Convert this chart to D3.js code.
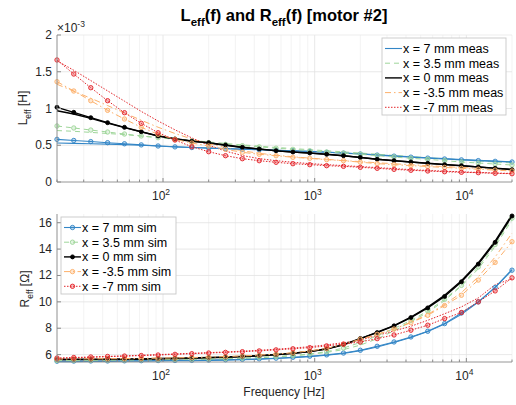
<!DOCTYPE html>
<html>
<head>
<meta charset="utf-8">
<script src="https://cdn.jsdelivr.net/npm/d3@7/dist/d3.min.js"></script>
<style>
  body { margin: 0; background: #fff; }
  svg { display: block; font-family: "Liberation Sans", Arial, sans-serif; }
</style>
</head>
<body>
<div id="container"></div>
<script>
// frequencies [Hz] of the measured / simulated points
const freq = [20, 25.8, 33.4, 43.1, 55.7, 71.9, 92.8, 119.9, 154.9, 200, 258.3, 333.6, 430.9, 556.5,
  718.8, 928.3, 1199, 1549, 2000, 2583, 3336, 4309, 5565, 7188, 9283, 11990, 15486, 20000];

const names = ['x = 7 mm', 'x = 3.5 mm', 'x = 0 mm', 'x = -3.5 mm', 'x = -7 mm'];

// L_eff in mH (axis shows x10^-3)
const lMeas7 = [0.53,0.525,0.52,0.515,0.508,0.5,0.49,0.48,0.47,0.462,0.455,0.447,0.44,0.432,0.424,0.416,0.406,0.395,0.384,0.37,0.356,0.343,0.33,0.318,0.306,0.295,0.284,0.274];
const lMeas35 = [0.70,0.69,0.675,0.66,0.645,0.625,0.605,0.585,0.565,0.545,0.525,0.505,0.488,0.47,0.455,0.44,0.425,0.41,0.394,0.378,0.362,0.346,0.33,0.315,0.3,0.285,0.272,0.26];
const lMeas0 = [0.97,0.925,0.865,0.8,0.74,0.682,0.628,0.59,0.558,0.53,0.5,0.47,0.447,0.425,0.407,0.393,0.376,0.357,0.335,0.31,0.291,0.273,0.255,0.238,0.223,0.206,0.189,0.172];
const lMeasM35 = [1.33,1.235,1.14,1.04,0.94,0.84,0.745,0.66,0.585,0.52,0.468,0.425,0.39,0.365,0.343,0.325,0.308,0.292,0.277,0.262,0.248,0.235,0.222,0.21,0.198,0.186,0.175,0.165];
const lMeasM7 = [1.65,1.52,1.38,1.24,1.1,0.96,0.83,0.71,0.6,0.5,0.42,0.36,0.318,0.29,0.268,0.25,0.236,0.223,0.21,0.196,0.182,0.168,0.157,0.147,0.138,0.13,0.122,0.116];

const lSim7 = [0.58,0.565,0.55,0.535,0.52,0.505,0.49,0.478,0.469,0.461,0.453,0.446,0.439,0.431,0.423,0.414,0.404,0.393,0.381,0.366,0.352,0.338,0.325,0.313,0.301,0.291,0.281,0.272];
const lSim35 = [0.762,0.735,0.707,0.68,0.653,0.626,0.603,0.581,0.556,0.535,0.512,0.494,0.478,0.46,0.444,0.426,0.408,0.392,0.377,0.358,0.34,0.322,0.309,0.29,0.272,0.258,0.245,0.231];
const lSim0 = [1.016,0.948,0.875,0.807,0.744,0.684,0.626,0.585,0.555,0.535,0.503,0.472,0.449,0.426,0.408,0.395,0.377,0.358,0.334,0.309,0.29,0.272,0.254,0.236,0.222,0.204,0.186,0.167];
const lSimM35 = [1.365,1.238,1.106,0.975,0.857,0.744,0.649,0.58,0.53,0.49,0.444,0.404,0.377,0.358,0.336,0.322,0.304,0.29,0.27,0.25,0.236,0.223,0.21,0.198,0.186,0.174,0.162,0.15];
const lSimM7 = [1.66,1.469,1.283,1.106,0.943,0.798,0.671,0.571,0.48,0.412,0.358,0.317,0.29,0.268,0.249,0.236,0.222,0.213,0.2,0.186,0.172,0.159,0.15,0.14,0.132,0.127,0.118,0.113];

// R_eff in Ohm
const rMeas7 = [5.46,5.47,5.48,5.49,5.5,5.51,5.52,5.53,5.54,5.56,5.58,5.61,5.65,5.7,5.77,5.85,5.95,6.09,6.3,6.58,6.92,7.3,7.75,8.32,9.05,9.98,11.1,12.45];
const rMeas35 = [5.52,5.53,5.54,5.55,5.56,5.57,5.58,5.6,5.62,5.64,5.67,5.71,5.76,5.83,5.91,6.02,6.17,6.38,6.72,7.2,7.8,8.5,9.2,10.1,11.2,12.5,14.2,16.2];
const rMeas0 = [5.6,5.61,5.62,5.63,5.64,5.65,5.67,5.69,5.72,5.75,5.79,5.84,5.91,5.99,6.09,6.23,6.43,6.74,7.2,7.7,8.2,8.85,9.6,10.5,11.6,12.95,14.6,16.6];
const rMeasM35 = [5.64,5.65,5.66,5.67,5.68,5.7,5.72,5.74,5.77,5.8,5.84,5.89,5.95,6.03,6.13,6.27,6.46,6.76,7.15,7.52,7.95,8.45,9.05,9.8,10.7,11.9,13.4,15.2];
const rMeasM7 = [5.7,5.75,5.8,5.85,5.9,5.95,6.0,6.05,6.1,6.15,6.2,6.26,6.33,6.41,6.5,6.6,6.74,6.9,7.1,7.45,7.8,8.15,8.6,9.1,9.62,10.3,11.3,11.75];

const rSim7 = [5.5,5.51,5.52,5.52,5.53,5.54,5.55,5.56,5.57,5.59,5.61,5.64,5.68,5.73,5.8,5.88,5.98,6.12,6.33,6.63,6.96,7.34,7.77,8.35,9.16,10.0,11.09,12.4];
const rSim35 = [5.55,5.56,5.57,5.58,5.59,5.6,5.61,5.63,5.65,5.67,5.7,5.74,5.79,5.85,5.93,6.05,6.22,6.5,6.92,7.42,7.98,8.6,9.3,10.2,11.25,12.65,14.35,16.35];
const rSim0 = [5.64,5.645,5.65,5.66,5.67,5.68,5.7,5.72,5.75,5.78,5.82,5.87,5.93,6.0,6.1,6.24,6.44,6.76,7.22,7.67,8.18,8.81,9.54,10.41,11.52,12.86,14.51,16.51];
const rSimM35 = [5.66,5.67,5.68,5.69,5.7,5.71,5.73,5.75,5.78,5.81,5.85,5.9,5.96,6.04,6.14,6.28,6.47,6.78,7.17,7.54,7.94,8.42,8.98,9.72,10.5,11.65,12.99,14.56];
const rSimM7 = [5.74,5.78,5.82,5.86,5.89,5.93,5.97,6.02,6.07,6.12,6.17,6.22,6.28,6.36,6.44,6.53,6.66,6.8,6.96,7.21,7.49,7.85,8.23,8.73,9.19,10.0,10.83,11.82];

const lTicks = [0, 0.5, 1, 1.5, 2];
const rTicks = [6, 8, 10, 12, 14, 16];
const xTicks = [100, 1000, 10000];

// line styles per position
const colors = ['#3386c6', '#9fd69a', '#000000', '#fdb06a', '#e3262b'];
const dashes = [null, '5,4', null, '6,3,1.5,3', '1.5,1.5'];
const widths = [1.1, 1.0, 1.4, 1.0, 1.0];

const w = 516, h = 405;
const left = 57, right = 512;

const svg = d3.select('#container').append('svg').attr('width', w).attr('height', h);

const x = d3.scaleLog().domain([20, 20000]).range([left, right]);

function minorTicks() {
  const out = [];
  [10, 100, 1000, 10000].forEach(d => { for (let k = 2; k <= 9; k++) { const v = d * k; if (v >= 20 && v <= 20000) out.push(v); } });
  return out;
}

function marker(sel, k) {
  sel.attr('r', k === 2 ? 2 : 2.2)
    .attr('fill', k === 2 ? '#000' : colors[k]).attr('fill-opacity', k === 2 ? 1 : 0.3)
    .attr('stroke', colors[k]).attr('stroke-width', 0.9);
}

function panel(top, bottom, yDomain, yTicks, fmt, meas, sim, legendText, legendBox, withMarkers) {
  const y = d3.scaleLinear().domain(yDomain).range([bottom, top]);
  const g = svg.append('g');

  // grid
  g.selectAll('.xminor').data(minorTicks()).enter().append('line')
    .attr('x1', d => x(d)).attr('x2', d => x(d)).attr('y1', top).attr('y2', bottom)
    .attr('stroke', '#f0f0f0').attr('stroke-width', 0.8);
  g.selectAll('.xmajor').data(xTicks).enter().append('line')
    .attr('x1', d => x(d)).attr('x2', d => x(d)).attr('y1', top).attr('y2', bottom)
    .attr('stroke', '#e2e2e2').attr('stroke-width', 0.8);
  g.selectAll('.ymajor').data(yTicks.filter(t => y(t) > top + 0.5 && y(t) < bottom - 0.5)).enter().append('line')
    .attr('x1', left).attr('x2', right).attr('y1', d => y(d)).attr('y2', d => y(d))
    .attr('stroke', '#e2e2e2').attr('stroke-width', 0.8);
  if (yDomain[1] === yTicks[yTicks.length - 1]) {
    g.append('line').attr('x1', left).attr('x2', right).attr('y1', top).attr('y2', top)
      .attr('stroke', '#e8e8e8').attr('stroke-width', 0.8);
  }

  const line = d3.line().x((d, i) => x(freq[i])).y(d => y(d));

  meas.forEach((s, k) => {
    g.append('path').datum(s).attr('d', line).attr('fill', 'none')
      .attr('stroke', colors[k]).attr('stroke-width', widths[k])
      .attr('stroke-dasharray', dashes[k]);
  });
  sim.forEach((s, k) => {
    g.append('path').datum(s).attr('d', line).attr('fill', 'none')
      .attr('stroke', colors[k]).attr('stroke-width', widths[k])
      .attr('stroke-dasharray', dashes[k]);
    g.selectAll('.m' + k).data(s).enter().append('circle')
      .attr('cx', (d, i) => x(freq[i])).attr('cy', d => y(d))
      .call(marker, k);
  });

  // axes lines
  g.append('line').attr('x1', left).attr('x2', left).attr('y1', top).attr('y2', bottom).attr('stroke', '#8a8a8a').attr('stroke-width', 0.9);
  g.append('line').attr('x1', left).attr('x2', right).attr('y1', bottom).attr('y2', bottom).attr('stroke', '#8a8a8a').attr('stroke-width', 0.9);

  // ticks (inward)
  g.selectAll('.yt').data(yTicks).enter().append('line')
    .attr('x1', left).attr('x2', left + 4).attr('y1', d => y(d)).attr('y2', d => y(d)).attr('stroke', '#8a8a8a');
  g.selectAll('.xt').data(xTicks).enter().append('line')
    .attr('x1', d => x(d)).attr('x2', d => x(d)).attr('y1', bottom).attr('y2', bottom - 4).attr('stroke', '#8a8a8a');
  g.selectAll('.xmt').data(minorTicks()).enter().append('line')
    .attr('x1', d => x(d)).attr('x2', d => x(d)).attr('y1', bottom).attr('y2', bottom - 2.5).attr('stroke', '#8a8a8a');

  g.selectAll('.yl').data(yTicks).enter().append('text')
    .attr('x', left - 5).attr('y', d => y(d) + 4).attr('text-anchor', 'end')
    .attr('font-size', 12).attr('fill', '#262626').text(fmt);

  const xl = g.selectAll('.xl').data(xTicks).enter().append('text')
    .attr('x', d => x(d) - 2).attr('y', bottom + 18).attr('text-anchor', 'middle')
    .attr('font-size', 12).attr('fill', '#262626');
  xl.append('tspan').text('10');
  xl.append('tspan').attr('dy', -5).attr('font-size', 8.5).text(d => Math.round(Math.log10(d)));

  // legend
  const lg = g.append('g');
  lg.append('rect').attr('x', legendBox.x).attr('y', legendBox.y).attr('width', legendBox.w).attr('height', legendBox.h)
    .attr('fill', '#fff').attr('stroke', '#c8c8c8').attr('stroke-width', 0.9);
  names.forEach((n, k) => {
    const yy = legendBox.y + 10.5 + k * 14.7;
    lg.append('line').attr('x1', legendBox.x + 3).attr('x2', legendBox.x + 20).attr('y1', yy).attr('y2', yy)
      .attr('stroke', colors[k]).attr('stroke-width', widths[k]).attr('stroke-dasharray', dashes[k]);
    if (withMarkers) {
      lg.append('circle').attr('cx', legendBox.x + 11.5).attr('cy', yy).call(marker, k);
    }
    lg.append('text').attr('x', legendBox.x + 21).attr('y', yy + 4.3).attr('font-size', 12.5).attr('fill', '#000')
      .text(n + legendText);
  });
  return y;
}

panel(35, 182, [0, 2], lTicks, d => d3.format('~g')(d),
  [lMeas7, lMeas35, lMeas0, lMeasM35, lMeasM7], [lSim7, lSim35, lSim0, lSimM35, lSimM7],
  ' meas', {x: 382, y: 38, w: 124, h: 77}, false);

panel(214, 362, [5.44, 16.66], rTicks, d => d,
  [rMeas7, rMeas35, rMeas0, rMeasM35, rMeasM7], [rSim7, rSim35, rSim0, rSimM35, rSimM7],
  ' sim', {x: 61, y: 217, w: 115, h: 77}, true);

// exponent label
const ex = svg.append('text').attr('x', 57).attr('y', 32).attr('font-size', 12).attr('fill', '#262626');
ex.append('tspan').text('\u00d710');
ex.append('tspan').attr('dy', -5).attr('font-size', 8.5).text('-3');

// title
const t = svg.append('text').attr('x', 284).attr('y', 21).attr('text-anchor', 'middle')
  .attr('font-size', 16.5).attr('font-weight', 'bold').attr('fill', '#000');
t.append('tspan').text('L');
t.append('tspan').attr('dy', 4.5).attr('font-size', 11.5).text('eff');
t.append('tspan').attr('dy', -4.5).text('(f) and R');
t.append('tspan').attr('dy', 4.5).attr('font-size', 11.5).text('eff');
t.append('tspan').attr('dy', -4.5).text('(f) [motor #2]');

// axis labels
svg.append('text').attr('x', 284).attr('y', 396).attr('text-anchor', 'middle')
  .attr('font-size', 12).attr('fill', '#262626').text('Frequency [Hz]');

function yLabel(cx, cy, main, unit) {
  const tx = svg.append('text').attr('transform', `translate(${cx},${cy}) rotate(-90)`)
    .attr('text-anchor', 'middle').attr('font-size', 12).attr('fill', '#262626');
  tx.append('tspan').text(main);
  tx.append('tspan').attr('dy', 3.5).attr('font-size', 8.5).text('eff');
  tx.append('tspan').attr('dy', -3.5).text(' ' + unit);
}
yLabel(27, 108, 'L', '[H]');
yLabel(29, 289, 'R', '[\u03a9]');
</script>
</body>
</html>
